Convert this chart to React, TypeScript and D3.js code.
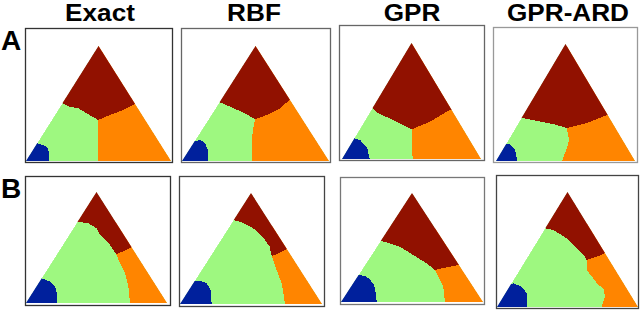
import React from 'react'
import * as d3 from 'd3'

const methods = ['Exact', 'RBF', 'GPR', 'GPR-ARD']
const rows = ['A', 'B']

// region outlines in triangle coords [u, v]: u runs along the base, v up to the apex
// panel order: A-Exact, A-RBF, A-GPR, A-ARD, B-Exact, B-RBF, B-GPR, B-ARD
const redRegions = [
  [[0.248, 0.504], [0.303, 0.472], [0.361, 0.458], [0.418, 0.414], [0.497, 0.357], [0.579, 0.4], [0.671, 0.443], [0.766, 0.504]],
  [[0.247, 0.516], [0.327, 0.472], [0.429, 0.414], [0.497, 0.362], [0.576, 0.4], [0.667, 0.458], [0.73, 0.53]],
  [[0.218, 0.437], [0.261, 0.394], [0.393, 0.322], [0.501, 0.256], [0.633, 0.322], [0.772, 0.422]],
  [[0.187, 0.368], [0.266, 0.35], [0.41, 0.316], [0.51, 0.282], [0.655, 0.325], [0.8, 0.393]],
  [[0.371, 0.732], [0.442, 0.718], [0.501, 0.673], [0.525, 0.613], [0.596, 0.523], [0.638, 0.44], [0.7, 0.47], [0.75, 0.502]],
  [[0.375, 0.757], [0.423, 0.741], [0.516, 0.682], [0.585, 0.6], [0.63, 0.52], [0.646, 0.43], [0.7, 0.46], [0.76, 0.5]],
  [[0.282, 0.56], [0.345, 0.538], [0.415, 0.507], [0.509, 0.431], [0.603, 0.355], [0.662, 0.294], [0.744, 0.318], [0.83, 0.339]],
  [[0.34, 0.684], [0.4, 0.67], [0.494, 0.597], [0.565, 0.51], [0.624, 0.437], [0.636, 0.409], [0.707, 0.437], [0.766, 0.467]],
]

// green / orange border, from the junction down to the base
const orangeRegions = [
  [[0.497, 0.357], [0.497, 0.2], [0.5, 0.1], [0.497, 0]],
  [[0.497, 0.362], [0.48, 0.25], [0.476, 0]],
  [[0.501, 0.256], [0.505, 0.12], [0.508, 0]],
  [[0.51, 0.282], [0.525, 0.18], [0.51, 0.11], [0.475, 0]],
  [[0.638, 0.44], [0.702, 0.268], [0.726, 0.147], [0.738, 0]],
  [[0.646, 0.43], [0.681, 0.306], [0.716, 0.186], [0.728, 0.096], [0.739, 0]],
  [[0.662, 0.294], [0.685, 0.232], [0.72, 0.14], [0.732, 0]],
  [[0.636, 0.409], [0.636, 0.322], [0.683, 0.25], [0.719, 0.191], [0.754, 0.163], [0.766, 0.09], [0.742, 0]],
]

// blue corner, from the left edge down to the base
const blueRegions = [
  [[0.062, 0.159], [0.119, 0.139], [0.154, 0.11], [0.161, 0]],
  [[0.077, 0.168], [0.122, 0.183], [0.156, 0.157], [0.175, 0.096], [0.179, 0]],
  [[0.08, 0.18], [0.13, 0.164], [0.18, 0.1], [0.2, 0]],
  [[0.065, 0.145], [0.1, 0.145], [0.137, 0.094], [0.153, 0]],
  [[0.111, 0.223], [0.17, 0.192], [0.206, 0.153], [0.218, 0.087], [0.218, 0]],
  [[0.082, 0.2], [0.141, 0.21], [0.188, 0.186], [0.216, 0.126], [0.223, 0]],
  [[0.122, 0.248], [0.169, 0.239], [0.204, 0.208], [0.232, 0.156], [0.246, 0.08], [0.251, 0]],
  [[0.069, 0.191], [0.116, 0.206], [0.175, 0.177], [0.21, 0.119], [0.215, 0]],
]

// layout of each panel: frame [x0, y0, x1, y1] and triangle [left, right, base, apex]
const panels = [
  { box: [25, 28, 172, 162], tri: [26, 171, 161, 46] },
  { box: [181, 28, 330, 162], tri: [182, 329, 161, 46] },
  { box: [339, 25, 484, 160], tri: [342, 481, 159, 43] },
  { box: [493, 27, 637, 162], tri: [496, 635, 161, 44] },
  { box: [25, 176, 170, 305], tri: [26, 167, 303, 192] },
  { box: [179, 176, 324, 306], tri: [180, 322, 304, 193] },
  { box: [340, 177, 484, 304], tri: [341, 483, 302, 193] },
  { box: [496, 175, 638, 308], tri: [497, 638, 307, 192] },
]
const frameColors = ['#333', '#666', '#666', '#999', '#333', '#444', '#777', '#444']
const titleX = [100, 254, 412, 568]
const rowLabelY = [50, 198]

const RED = '#911100'
const ORANGE = '#ff8500'
const GREEN = '#9ef880'
const BLUE = '#00209c'

function Panel({ i }: { i: number }) {
  const { box, tri } = panels[i]
  const x = d3.scaleLinear().domain([0, 1]).range([tri[0], tri[1]])
  const y = d3.scaleLinear().domain([0, 1]).range([tri[2], tri[3]])
  const line = d3.line<number[]>().x(d => x(d[0])).y(d => y(d[1]))
  const path = (pts: number[][]) => line(pts) + 'Z'

  const outline = [[0, 0], [1, 0], [0.5, 1]]

  const red = redRegions[i]
  const r0 = red[0], rn = red[red.length - 1]
  const redPoly = [[r0[0] - 0.1, r0[1]], ...red, [rn[0] + 0.1, rn[1]], [1.2, 1.2], [-0.2, 1.2]]

  const org = orangeRegions[i]
  const o0 = org[0], on = org[org.length - 1]
  const orangePoly = [[o0[0], 1.2], ...org, [on[0], -0.2], [1.2, -0.2], [1.2, 1.2]]

  const blue = blueRegions[i]
  const b0 = blue[0], bn = blue[blue.length - 1]
  const bluePoly = [[-0.2, b0[1]], ...blue, [bn[0], -0.2], [-0.2, -0.2]]

  const clipId = 'tri' + i
  return (
    <g>
      <rect
        x={box[0] + 0.5}
        y={box[1] + 0.5}
        width={box[2] - box[0]}
        height={box[3] - box[1]}
        fill="white"
        stroke={frameColors[i]}
        strokeWidth={1.3}
      />
      <clipPath id={clipId}>
        <path d={path(outline)} />
      </clipPath>
      <g clipPath={`url(#${clipId})`} shapeRendering="crispEdges">
        <path d={path(outline)} fill={GREEN} />
        <path d={path(orangePoly)} fill={ORANGE} />
        <path d={path(redPoly)} fill={RED} />
        <path d={path(bluePoly)} fill={BLUE} />
      </g>
    </g>
  )
}

export default function App() {
  return (
    <div style={{ position: 'absolute', left: 0, top: 0 }}>
      <svg width={640} height={311} style={{ display: 'block', background: 'white' }}>
        {methods.map((m, j) => (
          <text
            key={m}
            x={titleX[j]}
            y={21}
            textAnchor="middle"
            fontFamily="'Liberation Sans', Arial, sans-serif"
            fontWeight="bold"
            fontSize={24}
            transform={`translate(${titleX[j]},0) scale(1.09,1) translate(${-titleX[j]},0)`}
          >
            {m}
          </text>
        ))}
        {rows.map((r, k) => (
          <text
            key={r}
            x={1}
            y={rowLabelY[k]}
            fontFamily="'Liberation Sans', Arial, sans-serif"
            fontWeight="bold"
            fontSize={28}
          >
            {r}
          </text>
        ))}
        {panels.map((_, i) => <Panel key={i} i={i} />)}
      </svg>
    </div>
  )
}
